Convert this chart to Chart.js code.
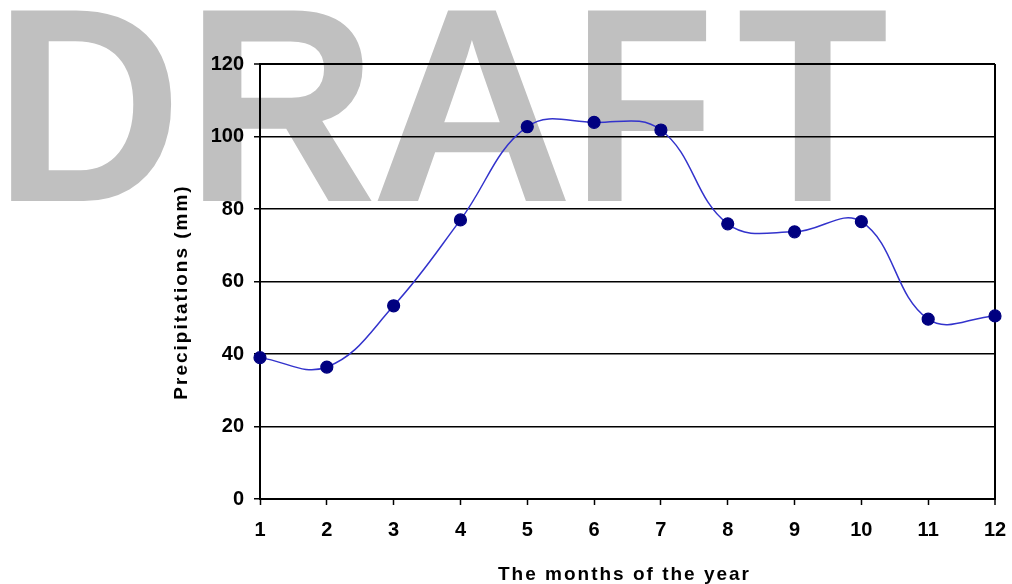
<!DOCTYPE html>
<html>
<head>
<meta charset="utf-8">
<script src="https://cdn.jsdelivr.net/npm/chart.js@4.4.1/dist/chart.umd.min.js"></script>
<style>
  html, body { margin: 0; padding: 0; background: #fff; }
  #wrap { width: 1012px; height: 584px; }
</style>
</head>
<body>
<div id="wrap"><canvas id="rainChart" width="1012" height="584"></canvas></div>
<script>
// Chart data
const months = ["1", "2", "3", "4", "5", "6", "7", "8", "9", "10", "11", "12"];
const precipitation = [39.0, 36.4, 53.3, 77.0, 102.7, 103.9, 101.8, 75.9, 73.7, 76.5, 49.6, 50.5];
const yMin = 0, yMax = 120, yStep = 20;
const xTitle = "The months of the year";
const yTitle = "Precipitations (mm)";
const watermark = ["D", "R", "A", "F", "T"];

const FONT = "'Liberation Sans', Arial, sans-serif";

// Big grey "DRAFT" behind the chart, each letter fitted to its box
const draftPlugin = {
    id: "draft",
    beforeDraw(chart) {
        const ctx = chart.ctx;
        const boxes = [[10, 173], [202, 372], [375, 568], [587, 707], [737, 888]];
        const top = 10, base = 201;
        ctx.save();
        ctx.font = "bold 100px " + FONT;
        const asc = ctx.measureText("D").actualBoundingBoxAscent;
        const size = 100 * (base - top) / asc;
        ctx.font = "bold " + size + "px " + FONT;
        ctx.fillStyle = "#c0c0c0";
        ctx.textBaseline = "alphabetic";
        watermark.forEach((ch, i) => {
            const m = ctx.measureText(ch);
            const w = m.actualBoundingBoxLeft + m.actualBoundingBoxRight;
            ctx.save();
            ctx.translate(boxes[i][0], base);
            ctx.scale((boxes[i][1] - boxes[i][0]) / w, 1);
            ctx.fillText(ch, m.actualBoundingBoxLeft, 0);
            ctx.restore();
        });
        ctx.restore();
    }
};

// Axis titles with the wide letter spacing of the original
const titlesPlugin = {
    id: "axisTitles",
    afterDraw(chart) {
        const ctx = chart.ctx;
        const area = chart.chartArea;
        ctx.save();
        ctx.font = "bold 19px " + FONT;
        ctx.fillStyle = "#000";
        ctx.letterSpacing = "2px";
        ctx.textAlign = "center";
        ctx.textBaseline = "alphabetic";
        ctx.fillText(xTitle, (area.left + area.right) / 2 - 3, 580);

        ctx.translate(187, 292);
        ctx.rotate(-Math.PI / 2);
        ctx.fillText(yTitle, 0, 0);
        ctx.restore();
    }
};

const ctx = document.getElementById("rainChart").getContext("2d");
new Chart(ctx, {
    type: "line",
    data: {
        labels: months,
        datasets: [{
            data: precipitation,
            borderColor: "#3333cc",
            borderWidth: 1.5,
            tension: 0.4,
            pointRadius: 6,
            pointBorderWidth: 1.2,
            pointBackgroundColor: "#000080",
            pointBorderColor: "#000080",
            pointHoverRadius: 6
        }]
    },
    options: {
        responsive: false,
        animation: false,
        events: [],
        layout: { padding: { left: 0, right: 17, top: 64, bottom: 0 } },
        plugins: {
            legend: { display: false },
            tooltip: { enabled: false }
        },
        scales: {
            x: {
                offset: false,
                afterFit: (scale) => {
                    scale.height = 85;
                    scale.paddingLeft = 0;
                    scale.paddingRight = 0;
                },
                border: { display: true, color: "#000", width: 2 },
                grid: {
                    drawOnChartArea: true,
                    color: (c) => c.index === months.length - 1 ? "#000" : "rgba(0,0,0,0)",
                    lineWidth: (c) => c.index === months.length - 1 ? 2 : 1,
                    tickColor: "#000",
                    tickLength: 6,
                    tickWidth: 1.5
                },
                ticks: {
                    color: "#000",
                    padding: 13,
                    maxRotation: 0,
                    font: { family: FONT, size: 20, weight: "bold" }
                }
            },
            y: {
                min: yMin,
                max: yMax,
                afterFit: (scale) => { scale.width = 260; },
                border: { display: true, color: "#000", width: 2 },
                grid: {
                    color: "#000",
                    lineWidth: (c) => c.tick && c.tick.value === yMax ? 2 : 1.5,
                    tickColor: "#000",
                    tickLength: 6,
                    tickWidth: 1.5
                },
                ticks: {
                    stepSize: yStep,
                    color: "#000",
                    padding: 10,
                    font: { family: FONT, size: 20, weight: "bold" }
                }
            }
        }
    },
    plugins: [draftPlugin, titlesPlugin]
});
</script>
</body>
</html>
